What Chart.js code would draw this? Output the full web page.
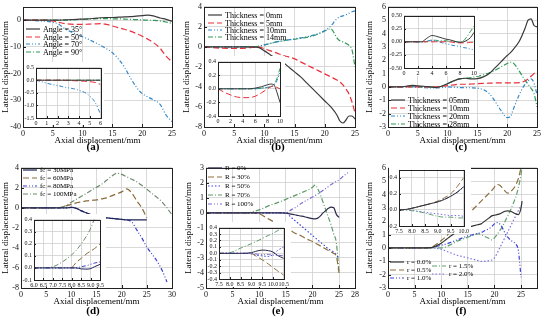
<!DOCTYPE html>
<html><head><meta charset="utf-8">
<script src="https://cdn.jsdelivr.net/npm/chart.js@4.4.1/dist/chart.umd.min.js"></script>
<style>
html,body{margin:0;padding:0;background:#fff;}
#wrap{position:relative;width:550px;height:326px;overflow:hidden;background:#fff;}
canvas{position:absolute;}
.lbl{position:absolute;font-family:"Liberation Serif",serif;font-weight:bold;font-size:11px;color:#000;transform:translateX(-50%);}
</style></head><body><div id="wrap"></div>
<script>
// ---------- DATA ----------
// (a)
const aX   = [0,3,5,6,7,8,9,10,11,12,13,14,15,16,17,18,19,20,21,22,23,24,25];
const a35  = [0,0,0,0,0.1,0.2,0.3,0.4,0.5,0.7,0.9,1.0,1.0,1.1,1.2,1.3,1.5,1.7,1.9,1.5,0.8,0.3,-0.4];
const a50  = [0,0,-0.3,-0.8,-1.3,-1.5,-1.6,-1.6,-1.5,-1.4,-1.3,-1.6,-2.2,-2.8,-3.4,-4.1,-5.0,-6.0,-7.2,-8.6,-10.5,-13.5,-15.6];
const a70  = [0,-0.3,-0.8,-1.5,-3.2,-4.3,-5.3,-6.2,-7.2,-8.3,-9.4,-10.7,-12.2,-14.5,-17.5,-21.5,-25,-27.5,-28.8,-30,-31.5,-35.5,-38];
const a90  = [0,0,0,0,0,0.1,0.2,0.3,0.4,0.5,0.6,0.6,0.5,0.5,0.4,0.3,0.2,0.1,0,-0.1,-0.3,-0.7,-1.2];
const aiX  = [0,0.5,1,1.5,2,2.5,3,3.5,4,4.5,5,5.5,6];
const ai35 = [0,0,0,0,0,0,0,0,0,0,0,0,0];
const ai50 = [0,0,0,0,0,0,-0.01,-0.02,-0.03,-0.04,-0.06,-0.09,-0.17];
const ai70 = [0,-0.06,-0.12,-0.17,-0.21,-0.26,-0.3,-0.34,-0.4,-0.48,-0.63,-0.88,-1.35];
const ai90 = [0,0,0,0,0,0,0,0,0,0,0,0,0];
// (b)
const bX   = [0,2,4,6,8,9,10,11,12,13,14,15,16,17,18,19,20,21,22,22.5,23,23.5,24,24.5,25];
const b0   = [0,0,0,0,0,-0.05,-0.4,-0.8,-1.2,-1.5,-2.0,-2.5,-3.0,-3.6,-4.2,-4.8,-5.4,-6.0,-6.8,-7.4,-7.6,-7.3,-6.9,-6.9,-7.2];
const b5   = [0,-0.1,-0.15,-0.15,-0.05,0,-0.2,-0.4,-0.6,-0.85,-1.0,-1.2,-1.5,-1.8,-2.1,-2.4,-2.7,-3.0,-3.3,-3.5,-3.8,-4.2,-4.7,-5.5,-6.6];
const b10  = [0,0,0,0,0,0.05,0.2,0.35,0.5,0.6,0.7,0.8,0.9,1.0,1.15,1.35,1.6,2.1,2.8,3.0,3.1,3.2,3.35,3.5,3.6];
const b14  = [0,0,0,0,0,0.05,0.2,0.35,0.5,0.6,0.7,0.75,0.85,0.95,1.1,1.3,1.6,1.8,0.9,0.6,0.5,0.35,0.15,-0.3,-2.0];
const biX  = [0,1,2,3,4,5,6,7,8,8.5,9,9.5,10];
const bi0  = [0,0,0,0,0,0,0.01,0.03,0.06,0.07,0.06,-0.05,-0.2];
const bi5  = [0,-0.05,-0.09,-0.12,-0.13,-0.13,-0.11,-0.06,0.0,0.03,0.04,0.02,0.0];
const bi10 = [0,0,0,0,0,0,0,0.01,0.02,0.03,0.05,0.12,0.25];
const bi14 = [0,0,0,0,0,0,0,0.01,0.02,0.03,0.06,0.15,0.3];
// (c)
const cX   = [0,2,3,4,5,6,7,8,9,10,11,12,13,14,15,16,17,18,19,20,20.5,21,22,23,23.5,24,24.5,25];
const c05  = [0,0,0.05,0.12,0.08,0.05,0,-0.05,0.05,0.25,0.45,0.6,0.65,0.6,0.62,0.75,1.0,1.45,1.9,2.35,2.55,2.8,3.4,4.4,5.0,5.1,4.6,4.5];
const c10  = [0,0,0,0,0,0,0,0,0.05,0.1,0.15,0.2,0.2,0.22,0.25,0.27,0.28,0.3,0.3,0.3,0.3,0.3,0.32,0.45,0.6,0.8,1.0,1.2];
const c20  = [0,0,0,0.02,-0.02,-0.05,-0.08,-0.08,-0.05,0,-0.02,-0.05,-0.05,-0.07,-0.1,-0.2,-0.5,-1.1,-1.8,-2.3,-2.25,-1.7,-0.6,0.2,0.45,0.6,0.3,-0.6];
const c28  = [0,0,0,0,0,0,0,0,0.05,0.25,0.45,0.6,0.65,0.7,0.8,0.9,1.05,1.25,1.5,1.75,1.85,1.8,1.2,0.5,0.2,-0.1,-0.5,-1.5];
const ciX  = [0,1,2,2.5,3,3.5,4,4.5,5,5.5,6,6.5,7,7.5,8,8.5,9,9.5,10];
const ci05 = [0,0,0,0,0.04,0.09,0.12,0.11,0.09,0.07,0.05,0.04,0.02,0.0,-0.01,0.0,0.03,0.08,0.18];
const ci10 = [0,0,0,0,0,0,0,0,0,0,0,0,-0.01,-0.02,-0.02,-0.02,-0.02,-0.01,-0.01];
const ci20 = [0,0,0,0,0,0.02,0.03,0.02,0.0,-0.02,-0.04,-0.05,-0.07,-0.08,-0.09,-0.11,-0.12,-0.14,-0.15];
const ci28 = [0,0,0,0,0,0.02,0.03,0.03,0.02,0.02,0.02,0.01,0.01,0.0,-0.01,0.02,0.1,0.2,0.3];
// (d)
const dX   = [0,5,8,9,10,11,12,13,14,15,16,17,18,19,20,21,22,23,24,25,26,27,28,29,30];
const d30  = [0,0,0,0,0.05,-0.05,-0.3,-0.5,-0.7,-0.85,-0.95,-1.0,-1.05,-1.1,-1.15,-1.2,-1.2,-1.2,-1.2,-1.2,null,null,null,null,null];
const d60  = [0,0,0.05,0.2,0.35,0.5,0.6,0.7,0.75,0.8,0.9,1.0,1.2,1.4,1.6,1.9,1.5,0.7,0.0,-1.0,null,null,null,null,null];
const d80  = [0,0,0,0,0.05,-0.05,-0.3,-0.5,-0.7,-0.85,-0.95,-1.0,-1.05,-1.1,-1.15,-1.2,-1.4,-2.2,-3.0,-3.9,-4.6,-5.3,-6.2,-7.4,null];
const d100 = [0,0,0.05,0.25,0.55,0.85,1.15,1.45,1.75,2.05,2.35,2.75,3.15,3.45,3.35,3.1,2.85,2.6,2.25,1.85,1.45,1.05,0.6,0.0,-0.7];
const diX  = [6.0,6.5,7.0,7.5,8.0,8.2,8.5,8.8,9.0,9.2,9.5];
const di30 = [0,0,0,0,0,0,-0.008,-0.01,-0.005,0.01,0.03];
const di60 = [null,null,null,null,0,0.04,0.08,0.12,0.14,0.16,0.2];
const di80 = [0,0,0,0,0,0,0.01,0.02,0.03,0.04,0.05];
const di100= [0,0,0.01,0.05,0.11,0.14,0.2,0.27,0.33,0.41,null];
// (e)
const eX   = [0,5,8,9,10,11,12,13,14,15,16,17,18,19,20,20.5,21,21.5,22,22.5,23,23.5,24,24.5,25,26,27];
const e0   = [0,0,0,0,0,0,0,0,0,-0.02,-0.08,-0.15,-0.22,-0.3,-0.38,-0.4,-0.35,-0.2,0,0.15,0.3,0.38,0.35,-0.1,-0.3,null,null];
const e30  = [0,0,0,0,-0.05,-0.25,-0.45,-0.65,-0.85,-1.0,-1.2,-1.4,-1.55,-1.75,-1.9,-2.0,-2.1,-2.2,-2.3,-2.4,-2.5,-2.6,-2.7,-2.9,-4.0,null,null];
const e50  = [0,0,0,0,0,0,0,0,0,0,-0.3,-0.6,-0.9,-1.2,-1.5,-1.65,-1.8,-1.95,-2.1,-2.25,-2.4,-2.5,-2.6,-2.8,-3.0,null,null];
const e70  = [0,0,0,0.1,0.2,0.35,0.5,0.62,0.75,0.9,1.05,1.2,1.35,1.5,1.7,1.85,1.6,1.2,0.7,0.2,-0.3,-0.8,-1.4,-2.0,-4.0,null,null];
const e100 = [0,0,0,0,0,0,0,0,0,0,0.2,0.4,0.65,0.85,1.05,1.15,1.25,1.38,1.5,1.62,1.75,1.88,2.0,2.1,2.2,2.5,2.75];
const eiX  = [7.5,8.0,8.5,9.0,9.2,9.5,9.8,10.0,10.2,10.5];
const ei0  = [0,0,0,0.01,0.03,0.05,0.04,0.02,-0.03,-0.08];
const ei30 = [null,null,null,0,-0.04,-0.1,-0.17,-0.22,-0.27,-0.34];
const ei50 = [0,0,0,-0.01,-0.03,-0.04,-0.05,-0.02,0.04,0.1];
const ei70 = [0,0.01,0.08,0.15,0.18,0.23,0.28,0.31,0.35,0.4];
const ei100= [0,0,0,0,-0.01,-0.02,-0.02,-0.03,-0.03,-0.04];
// (f)
const fX   = [0,5,8,9,10,11,12,13,14,15,16,17,17.5,18,19,19.5,20,20.5,21,21.5,22,22.5,23,23.5,24,24.5,25,25.2];
const f00  = [0,0,0.02,0.15,0.35,0.65,0.95,1.2,1.4,1.55,1.65,1.75,1.8,1.95,2.25,2.4,2.45,2.5,2.55,2.65,2.75,2.78,2.75,2.65,2.55,2.5,3.0,3.5];
const f05  = [0,0,0.03,0.25,0.55,0.9,1.3,1.7,2.1,2.5,2.9,3.3,3.5,3.7,4.1,4.3,4.55,4.75,4.7,4.5,4.25,4.1,4.2,4.4,4.7,5.2,6.0,null];
const f10  = [0,0,0.02,0.1,0.2,0.3,0.45,0.6,0.75,0.9,1.0,1.1,1.15,1.25,1.45,1.6,1.8,1.9,1.8,1.5,1.1,0.8,0.6,0.45,0.3,-0.2,-2.2,null];
const f15  = [0,0,0,0,0,0.1,0.3,0.5,0.65,0.8,0.95,1.05,1.0,0.9,0.7,0.6,0.75,1.0,1.3,1.6,2.0,2.4,2.8,3.3,3.8,4.5,5.5,6.0];
const f20  = [0,0,0,-0.02,-0.1,-0.25,-0.4,-0.55,-0.65,-0.75,-0.85,-0.95,-1.0,-1.0,-0.95,-0.9,-0.75,-0.4,0.0,0.4,0.8,1.2,1.6,2.0,2.4,2.8,3.2,null];
const fiX  = [7.5,7.75,8.0,8.25,8.5,8.75,9.0,9.25,9.5,9.75,10.0];
const fi00 = [0,0.005,0.02,0.04,0.06,0.08,0.1,0.13,0.17,0.22,0.29];
const fi05 = [0,0.005,0.02,0.04,0.06,0.08,0.11,0.15,0.2,0.29,0.4];
const fi10 = [0,0.005,0.02,0.04,0.06,0.08,0.1,0.13,0.17,0.22,0.28];
const fi15 = [0,0,-0.01,-0.02,-0.04,-0.06,-0.08,-0.09,-0.09,-0.1,-0.1];
const fi20 = [0,0,-0.005,-0.02,-0.03,-0.04,-0.05,-0.06,-0.07,-0.07,-0.08];

// legend labels
const aLabels = ['Angle = 35°','Angle = 50°','Angle = 70°','Angle = 90°'];
const bLabels = ['Thickness = 0mm','Thickness = 5mm','Thickness = 10mm','Thickness = 14mm'];
const cLabels = ['Thickness = 05mm','Thickness = 10mm','Thickness = 20mm','Thickness = 28mm'];
const dLabels = ['fc = 30MPa','fc = 60MPa','fc = 80MPa','fc = 100MPa'];
const eLabels = ['R = 0%','R = 30%','R = 50%','R = 70%','R = 100%'];
const fLabels = ['r = 0.0%','r = 0.5%','r = 1.0%','r = 1.5%','r = 2.0%'];

// ---------- STYLES ----------
const FONT = '"Liberation Serif", "Times New Roman", serif';
const SOLID = [], DASH = [6,3], DDOT = [4,2,1,2,1,2], DDASH = [5,2,1,2], DOT = [1.5,2];
const stA = [['#3a3a3a',SOLID],['#e8313c',DASH],['#2f86c8',DDOT],['#2e9a55',DDASH]];
const stD = [['#1e2453',SOLID],['#8a6a3a',DASH],['#3b3fd0',DDOT],['#6d8a6d',DDASH]];
const stE = [['#2a2a4a',SOLID],['#8f7040',DASH],['#3b44d8',DOT],['#5f9a68',DDASH],['#7a68d8',DDOT]];
const stF = [['#333333',SOLID],['#8f7040',DASH],['#3b44d8',DDOT],['#62a070',DDASH],['#7b74e0',DOT]];

const wrap = document.getElementById('wrap');

const framePlugin = {
  id:'frame',
  beforeDraw(c){ const x=c.ctx; x.save(); x.fillStyle='#fff'; x.fillRect(0,0,c.width,c.height); x.restore(); },
  afterDatasetsDraw(c, args, o){
    const a=c.chartArea, x=c.ctx; x.save();
    x.strokeStyle='#222'; x.lineWidth=1; x.setLineDash([]);
    x.strokeRect(Math.round(a.left)+0.5, Math.round(a.top)+0.5, Math.round(a.right-a.left), Math.round(a.bottom-a.top));
    // inward tick marks
    const tl = o.tick || 3;
    c.scales.x.ticks.forEach(t=>{ const px=Math.round(c.scales.x.getPixelForValue(t.value))+0.5;
      x.beginPath(); x.moveTo(px,a.bottom); x.lineTo(px,a.bottom-tl); x.stroke(); });
    c.scales.y.ticks.forEach(t=>{ const py=Math.round(c.scales.y.getPixelForValue(t.value))+0.5;
      x.beginPath(); x.moveTo(a.left,py); x.lineTo(a.left+tl,py); x.stroke(); });
    // legend
    if (o.legend){
      const L=o.legend; x.font = L.size+'px '+FONT; x.textBaseline='middle'; x.fillStyle='#000';
      c.data.datasets.forEach((d,i)=>{
        const pos = L.pos[i]; const lx = pos[0]-o.ox, ly = pos[1]-o.oy;
        x.strokeStyle=d.borderColor; x.lineWidth=d.borderWidth; x.setLineDash(d.borderDash||[]);
        x.beginPath(); x.moveTo(lx,ly); x.lineTo(lx+L.len,ly); x.stroke();
        x.setLineDash([]); x.fillText(d.label, lx+L.len+3, ly+0.5);
      });
    }
    x.restore();
  }
};

function mk(cfg){
  const [cx,cy,cw,ch] = cfg.rect, [pl,pt,pr,pb] = cfg.plot;
  const cv = document.createElement('canvas');
  cv.width=cw; cv.height=ch; cv.style.left=cx+'px'; cv.style.top=cy+'px';
  cv.style.width=cw+'px'; cv.style.height=ch+'px';
  wrap.appendChild(cv);
  const fs = cfg.fs, yW = pl-cx, xH = (cy+ch)-pb;
  const ds = cfg.series.map(s=>({
    label:s.label,
    data: s.xs.map((v,i)=>({x:v,y:s.ys[i]})).filter(p=>p.y!==null),
    borderColor:s.st[0], borderDash:s.st[1], borderWidth:cfg.lw||1.2,
    pointRadius:0, fill:false, cubicInterpolationMode:'monotone', tension:0.4
  }));
  const tk = (ax)=> ax.list ? (s)=>{ s.ticks = ax.list.map(v=>({value:v})); } : undefined;
  new Chart(cv,{
    type:'line',
    data:{datasets:ds},
    options:{
      responsive:false, animation:false, devicePixelRatio:1,
      layout:{padding:{left:0,top:pt-cy,right:(cx+cw)-pr,bottom:0}},
      plugins:{legend:{display:false}, tooltip:{enabled:false},
        frame:{legend:cfg.legend, ox:cx, oy:cy, tick:cfg.tick||3}},
      scales:{
        x:{type:'linear', min:cfg.x.min, max:cfg.x.max,
           ticks:{stepSize:cfg.x.step, font:{family:FONT,size:fs}, color:'#111', padding:2, maxRotation:0, autoSkip:false,
                  callback:cfg.x.fmt||((v)=>v)},
           afterBuildTicks: tk(cfg.x),
           grid:{color:'#cfcfcf', lineWidth:0.8, drawTicks:false}, border:{display:false},
           title:{display:!!cfg.titles, text:'Axial displacement/mm', font:{family:FONT,size:cfg.tfs||9}, color:'#000', padding:{top:0,bottom:0}},
           afterFit(s){ s.height = xH; }},
        y:{type:'linear', min:cfg.y.min, max:cfg.y.max,
           ticks:{stepSize:cfg.y.step, font:{family:FONT,size:fs}, color:'#111', padding:2, autoSkip:false,
                  callback:cfg.y.fmt||((v)=>v)},
           afterBuildTicks: tk(cfg.y),
           grid:{color:'#cfcfcf', lineWidth:0.8, drawTicks:false}, border:{display:false},
           title:{display:!!cfg.titles, text:'Lateral displacement/mm', font:{family:FONT,size:cfg.tfs||9}, color:'#000', padding:{top:0,bottom:1}},
           afterFit(s){ s.width = yW; }}
      }
    },
    plugins:[framePlugin]
  });
}
function ser(xs, arrs, labels, st){ return arrs.map((a,i)=>({xs, ys:a, label:labels[i], st:st[i]})); }
function lbl(t,x,y){ const d=document.createElement('div'); d.className='lbl'; d.textContent=t; d.style.left=x+'px'; d.style.top=y+'px'; wrap.appendChild(d); }
const f1 = v=>v.toFixed(1), f2 = v=>v.toFixed(2);

// ---------- MAIN PANELS ----------
mk({rect:[0,0,178,146], plot:[23,5,172,127], fs:8, titles:true,
  x:{min:0,max:25,step:5}, y:{min:-40,max:5,list:[-40,-30,-20,-10,0]},
  series:ser(aX,[a35,a50,a70,a90],aLabels,stA),
  legend:{size:8,len:14,pos:[[26,29],[26,37],[26,44],[26,52]]}});
mk({rect:[181,0,180,146], plot:[204,5,355,127], fs:8, titles:true,
  x:{min:0,max:25,step:5}, y:{min:-8,max:4,step:2},
  series:ser(bX,[b0,b5,b10,b14],bLabels,stA),
  legend:{size:8,len:14,pos:[[208,15],[208,23],[208,30],[208,37]]}});
mk({rect:[364,0,186,146], plot:[388,5,537,127], fs:8, titles:true,
  x:{min:0,max:25,step:5}, y:{min:-3,max:6,step:1},
  series:ser(cX,[c05,c10,c20,c28],cLabels,stA),
  legend:{size:8,len:14,pos:[[391,100],[391,108],[391,116],[391,124]]}});
mk({rect:[0,161,178,146], plot:[21,167,172,288], fs:8, titles:true,
  x:{min:0,max:30,step:5}, y:{min:-8,max:4,step:2},
  series:ser(dX,[d30,d60,d80,d100],dLabels,stD),
  legend:{size:7,len:14,pos:[[23,170],[23,178],[23,186],[23,194]]}});
mk({rect:[183,161,178,146], plot:[206,167,355,288], fs:8, titles:true,
  x:{min:0,max:28,list:[0,5,10,15,20,25,28]}, y:{min:-5,max:3,step:1},
  series:ser(eX,[e0,e30,e50,e70,e100],eLabels,stE),
  legend:{size:7,len:14,pos:[[208,168],[208,177],[208,186],[208,195],[208,204]]}});
mk({rect:[364,161,186,146], plot:[388,167,537,288], fs:8, titles:true,
  x:{min:0,max:28,list:[0,5,10,15,20,25]}, y:{min:-3,max:6,step:1},
  series:ser(fX,[f00,f05,f10,f15,f20],fLabels,stF),
  legend:{size:7,len:14,pos:[[390,262],[390,270],[390,278],[432,266],[432,274]]}});

// ---------- INSETS ----------
mk({rect:[24,62,80,63], plot:[36,67,102,118], fs:6, tick:2, lw:1,
  x:{min:0,max:6,step:1}, y:{min:-1.5,max:0.5,step:0.5, fmt:f1},
  series:ser(aiX,[ai35,ai50,ai70,ai90],aLabels,stA)});
mk({rect:[205,56,80,68], plot:[218,61,281,116], fs:6, tick:2, lw:1,
  x:{min:0,max:10,step:2}, y:{min:-0.4,max:0.4,step:0.2, fmt:f1},
  series:ser(biX,[bi0,bi5,bi10,bi14],bLabels,stA)});
mk({rect:[389,10,90,66], plot:[404,15,475,68], fs:6, tick:2, lw:1,
  x:{min:0,max:10,step:2}, y:{min:-0.5,max:0.5,step:0.25, fmt:f2},
  series:ser(ciX,[ci05,ci10,ci20,ci28],cLabels,stA)});
mk({rect:[22,214,84,73], plot:[34,219,102,280], fs:6, tick:2, lw:1,
  x:{min:6,max:9.5,step:0.5, fmt:f1}, y:{min:-0.1,max:0.4,step:0.1, fmt:f1},
  series:ser(diX,[di30,di60,di80,di100],dLabels,stD)});
mk({rect:[207,222,84,65], plot:[219,227,287,279], fs:6, tick:2, lw:1,
  x:{min:7.5,max:10.5,step:0.5, fmt:f1}, y:{min:-0.4,max:0.4,step:0.1, fmt:f1},
  series:ser(eiX,[ei0,ei30,ei50,ei70,ei100],eLabels,stE)});
mk({rect:[389,164,82,70], plot:[399,168,467,226], fs:6, tick:2, lw:1,
  x:{min:7.5,max:10,step:0.5, fmt:f1}, y:{min:-0.2,max:0.5,list:[-0.2,0,0.2,0.4], fmt:f1},
  series:ser(fiX,[fi00,fi05,fi10,fi15,fi20],fLabels,stF)});

lbl('(a)',93,140); lbl('(b)',278,140); lbl('(c)',461,140);
lbl('(d)',93,304); lbl('(e)',278,304); lbl('(f)',461,304);
</script></body></html>
